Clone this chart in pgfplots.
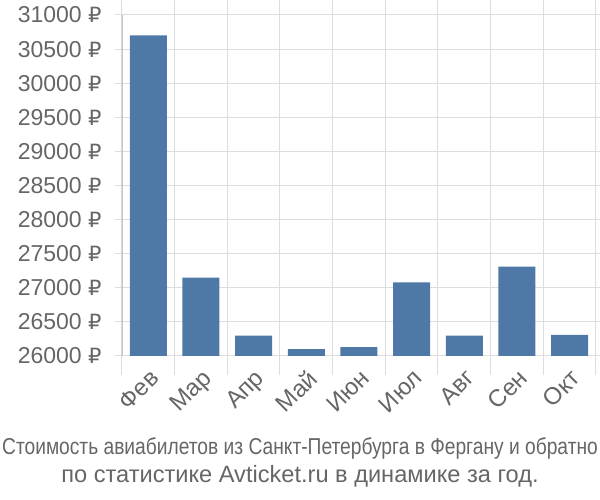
\documentclass[border=0pt]{standalone}
\usepackage{pgfplots}
\pgfplotsset{compat=1.18}
\usepackage{fontspec}
\setmainfont{Liberation Sans}
\newfontfamily\rub{DejaVu Sans}
\definecolor{barblue}{HTML}{4E79A7}
\definecolor{gridgray}{HTML}{DDDDDD}
\definecolor{axisgray}{HTML}{AAAAAA}
\definecolor{txtgray}{HTML}{666666}
\begin{document}
\begin{tikzpicture}[x=1pt,y=1pt]
\path[use as bounding box] (0,0) rectangle (600,500);
\begin{axis}[
    at={(122pt,144pt)}, anchor=south west,
    scale only axis,
    width=474pt, height=341pt,
    xmin=-0.5, xmax=8.5,
    ymin=26000, ymax=31000,
    ytick={26000,26500,...,31000},
    scaled y ticks=false,
    xtick={0,...,8},
    xticklabels={Фев,Мар,Апр,Май,Июн,Июл,Авг,Сен,Окт},
    minor xtick={-0.5,0.5,...,8.5},
    xminorgrids, ymajorgrids,
    grid style={gridgray, line width=1pt},
    minor grid style={gridgray, line width=1pt},
    axis line style={draw=none},
    tick align=outside,
    major tick length=7pt,
    minor tick length=19pt,
    tick style={gridgray, line width=1pt},
    major x tick style={draw=none},
    /pgf/number format/assume math mode=true,
    yticklabel={\pgfmathprintnumber[1000 sep={}]{\tick}~{\rub\fontsize{21}{24}\selectfont ₽}},
    yticklabel style={font=\fontsize{23}{26}\selectfont, text=txtgray, xshift=-10pt},
    xticklabel style={font=\fontsize{24}{26}\selectfont, text=txtgray, rotate=45, anchor=north east, xshift=0pt},
    ybar, bar width=37pt,
  ]
  \addplot[fill=barblue, draw=none] coordinates {
    (0,30700) (1,27150) (2,26300) (3,26100) (4,26130)
    (5,27080) (6,26300) (7,27310) (8,26310)
  };
  \draw[axisgray, line width=1.2pt] (rel axis cs:0,1) -- (rel axis cs:0,0) -- ++(0,-19pt);
\end{axis}
\node[text=txtgray, font=\fontsize{23}{26}\selectfont, anchor=base] at (300,45) {\scalebox{0.835}[1]{Стоимость авиабилетов из Санкт-Петербурга в Фергану и обратно}};
\node[text=txtgray, font=\fontsize{23.6}{26}\selectfont, anchor=base] at (300,17) {по статистике Avticket.ru в динамике за год.};
\end{tikzpicture}
\end{document}
